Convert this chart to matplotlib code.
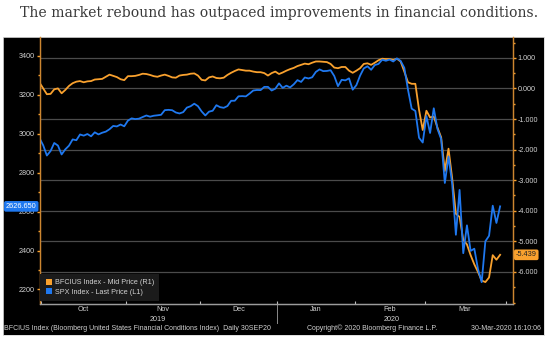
import numpy as np
import pandas as pd
import matplotlib
matplotlib.use("Agg")
import matplotlib.pyplot as plt
from matplotlib.patches import Patch
import matplotlib.transforms as mtransforms

# trading days shown on the chart (US market holidays removed)
holidays = ["2019-11-28", "2019-12-25", "2020-01-01", "2020-01-20", "2020-02-17"]
dates = pd.bdate_range("2019-09-30", "2020-03-30")
dates = dates[~dates.isin(pd.to_datetime(holidays))]

# SPX Index - Last Price (left axis)
spx = [2976.74, 2940.25, 2887.61, 2910.63, 2952.01, 2938.79, 2893.06, 2919.40, 2938.13, 2970.27,
       2966.15, 2995.68, 2989.69, 2997.95, 2986.20, 3006.72, 2995.99, 3004.52, 3010.29, 3022.55,
       3039.42, 3036.89, 3046.77, 3037.56, 3066.91, 3078.27, 3074.62, 3076.78, 3085.18, 3093.08,
       3087.01, 3091.84, 3094.04, 3096.63, 3120.46, 3122.03, 3120.18, 3108.46, 3103.54, 3110.29,
       3133.64, 3140.52, 3153.63, 3140.98, 3113.87, 3093.20, 3112.76, 3117.43, 3145.91, 3135.96,
       3132.52, 3141.63, 3168.57, 3168.80, 3191.45, 3192.52, 3191.14, 3205.37, 3221.22, 3224.01,
       3223.38, 3239.91, 3240.02, 3221.29, 3230.78, 3257.85, 3234.85, 3246.28, 3237.18, 3253.05,
       3274.70, 3265.35, 3288.13, 3283.15, 3289.29, 3316.81, 3329.62, 3320.79, 3321.75, 3325.54,
       3295.47, 3243.63, 3276.24, 3273.40, 3283.66, 3225.52, 3248.92, 3297.59, 3334.69, 3345.78,
       3327.71, 3352.09, 3357.75, 3379.45, 3373.94, 3380.16, 3370.29, 3386.15, 3373.23, 3337.75,
       3225.89, 3128.21, 3116.39, 2978.76, 2954.22, 3090.23, 3003.37, 3130.12, 3023.94, 2972.37,
       2746.56, 2882.23, 2741.38, 2480.64, 2711.02, 2386.13, 2529.19, 2398.10, 2409.39, 2304.92,
       2237.40, 2447.33, 2475.56, 2630.07, 2541.47, 2626.65]

# BFCIUS Index - Mid Price (right axis)
bfcius = [0.19, 0.00, -0.19, -0.18, -0.03, 0.00, -0.16, -0.05, 0.08, 0.17,
          0.22, 0.24, 0.20, 0.23, 0.24, 0.29, 0.30, 0.31, 0.38, 0.45,
          0.41, 0.37, 0.30, 0.27, 0.40, 0.40, 0.41, 0.44, 0.48, 0.47,
          0.44, 0.40, 0.38, 0.42, 0.45, 0.41, 0.36, 0.35, 0.42, 0.44,
          0.45, 0.48, 0.49, 0.42, 0.28, 0.26, 0.36, 0.39, 0.34, 0.33,
          0.35, 0.44, 0.51, 0.57, 0.62, 0.60, 0.58, 0.58, 0.55, 0.53,
          0.53, 0.50, 0.42, 0.50, 0.55, 0.47, 0.52, 0.58, 0.63, 0.67,
          0.73, 0.77, 0.81, 0.79, 0.84, 0.88, 0.88, 0.87, 0.86, 0.80,
          0.68, 0.66, 0.70, 0.70, 0.58, 0.51, 0.58, 0.66, 0.80, 0.82,
          0.77, 0.84, 0.92, 0.97, 0.96, 0.96, 0.93, 0.97, 0.88, 0.55,
          0.20, 0.15, 0.15, -0.70, -1.36, -0.73, -0.95, -0.92, -1.28, -1.60,
          -2.70, -1.97, -2.95, -4.10, -4.20, -4.95, -5.10, -5.45, -5.75, -6.00,
          -6.28, -6.33, -6.18, -5.45, -5.60, -5.439]

left_ticks = [2200, 2400, 2600, 2800, 3000, 3200, 3400]
right_ticks = [-6, -5, -4, -3, -2, -1, 0, 1]
spx_label = "2626.650"
bfc_label = "-5.439"
title = "The market rebound has outpaced improvements in financial conditions."
footer_left = "BFCIUS Index (Bloomberg United States Financial Conditions Index)  Daily 30SEP20"
footer_mid = "Copyright\u00a9 2020 Bloomberg Finance L.P."
footer_right = "30-Mar-2020 16:10:06"

ORANGE = "#f9a12e"
BLUE = "#1f78ef"
SPINE = "#cc8630"
TXT = "#d2d2d2"
GRID = "#4b4b4b"
FONT = "Liberation Sans"

W, H = 554, 338
fig = plt.figure(figsize=(W / 100, H / 100), dpi=100)
fig.patch.set_facecolor("white")

# black Bloomberg panel
bg = fig.add_axes([3 / W, 1 - 335 / H, 541 / W, 298 / H])
bg.set_facecolor("black")
bg.set_xticks([])
bg.set_yticks([])
for s in bg.spines.values():
    s.set_color("#d9d9d9")
    s.set_linewidth(0.6)

fig.text(0.503, 1 - 13.5 / H, title, ha="center", va="center",
         family="DejaVu Serif", fontsize=10.1, color="#3a3a3a")

x = np.arange(len(dates))
rect = [39.5 / W, 1 - 303.5 / H, (513 - 39.5) / W, (303.5 - 37) / H]
ax = fig.add_axes(rect)
ax2 = ax.twinx()
ax.set_zorder(2)
ax2.set_zorder(1)
ax.patch.set_visible(False)
ax2.set_facecolor("black")

ax2.plot(x, bfcius, color=ORANGE, lw=1.3, solid_joinstyle="round")
ax.plot(x, spx, color=BLUE, lw=1.3, solid_joinstyle="round")

ax.set_xlim(0, 128.5)
ax.set_ylim(2128, 3496)
ax2.set_ylim(-7.03, 1.68)

# month boundaries and centres from the dates
months = dates.to_period("M")
bounds = [i - 0.5 for i in range(1, len(dates)) if months[i] != months[i - 1]]
bounds.append(len(dates) + 0.5)
centres = [(bounds[k] + bounds[k + 1]) / 2 for k in range(len(bounds) - 1)]
month_labels = [m.strftime("%b") for m in months.unique()[1:]]

ax.set_xticks(bounds)
ax.set_xticklabels([])
ax.set_xticks(centres, minor=True)
ax.set_xticklabels(month_labels, minor=True)
ax.tick_params(axis="x", which="major", direction="in", length=2, color="#bdbdbd", width=0.8)
ax.tick_params(axis="x", which="minor", length=0, pad=1.5, labelsize=5.2, labelcolor=TXT)

years = dates.year
year_split = [i - 0.5 for i in range(1, len(dates)) if years[i] != years[i - 1]][0]
year_centres = [(-0.5 + year_split) / 2, (year_split + len(dates) + 0.5) / 2]
year_labels = [str(years[0]), str(years[-1])]
trans = mtransforms.blended_transform_factory(ax.transData, ax.transAxes)
for xc, lab in zip(year_centres, year_labels):
    ax.text(xc, -0.048, lab, transform=trans, ha="center", va="top",
            fontsize=5.2, color=TXT, family=FONT)
ax.plot([year_split, year_split], [0, -0.075], transform=trans, color="#8a8a8a",
        lw=0.7, clip_on=False)

ax.set_yticks(left_ticks)
ax.set_yticks(np.arange(2200, 3500, 100), minor=True)
ax.tick_params(axis="y", which="both", direction="out", color=ORANGE, width=1,
               labelsize=5.2, labelcolor=TXT, pad=1)
ax.tick_params(axis="y", which="major", length=2.5)
ax.tick_params(axis="y", which="minor", length=1.2)

ax2.set_yticks(right_ticks)
ax2.set_yticklabels([f"{v:.3f}" for v in right_ticks])
ax2.set_yticks(np.arange(-7, 1.6, 0.5), minor=True)
ax2.tick_params(axis="y", which="both", direction="out", color=ORANGE, width=1,
                labelsize=5.2, labelcolor=TXT, pad=1)
ax2.tick_params(axis="y", which="major", length=2.5)
ax2.tick_params(axis="y", which="minor", length=1.2)
ax2.grid(axis="y", which="major", color=GRID, lw=0.9)

for a in (ax, ax2):
    a.spines["top"].set_visible(False)
    a.spines["left"].set_color(SPINE)
    a.spines["right"].set_color(SPINE)
    a.spines["bottom"].set_color("#9c9c9c")
    for s in a.spines.values():
        s.set_linewidth(0.9)
for lab in ax.get_xticklabels(minor=True) + ax.get_yticklabels() + ax2.get_yticklabels():
    lab.set_family(FONT)

# last value flags
ax.text(-0.006, spx[-1], spx_label, transform=mtransforms.blended_transform_factory(ax.transAxes, ax.transData),
        ha="right", va="center", fontsize=5.3, color="white", family=FONT, zorder=10, clip_on=False,
        bbox=dict(boxstyle="round,pad=0.25", fc=BLUE, ec="none"))
ax2.text(1.006, bfcius[-1], bfc_label, transform=mtransforms.blended_transform_factory(ax2.transAxes, ax2.transData),
         ha="left", va="center", fontsize=5.3, color="#222222", family=FONT, zorder=10, clip_on=False,
         bbox=dict(boxstyle="round,pad=0.25", fc=ORANGE, ec="none"))

handles = [Patch(fc=ORANGE, ec="none"), Patch(fc=BLUE, ec="none")]
leg = ax.legend(handles, ["BFCIUS Index - Mid Price (R1)", "SPX Index - Last Price (L1)"],
                loc="lower left", bbox_to_anchor=(0.002, 0.01), frameon=True, fancybox=False,
                facecolor="#1b1b1b", edgecolor="none", framealpha=1,
                handlelength=0.9, handleheight=0.9, handletextpad=0.4, labelspacing=0.25,
                borderpad=0.7, borderaxespad=0, prop={"family": FONT, "size": 5.2})
for t in leg.get_texts():
    t.set_color(TXT)

fig.text(4 / W, 1 - 328.5 / H, footer_left, ha="left", va="center", fontsize=5,
         color=TXT, family=FONT)
fig.text(307 / W, 1 - 328.5 / H, footer_mid, ha="left", va="center", fontsize=5,
         color=TXT, family=FONT)
fig.text(541 / W, 1 - 328.5 / H, footer_right, ha="right", va="center", fontsize=5,
         color=TXT, family=FONT)

fig.savefig("out.png", dpi=100, facecolor="white")
